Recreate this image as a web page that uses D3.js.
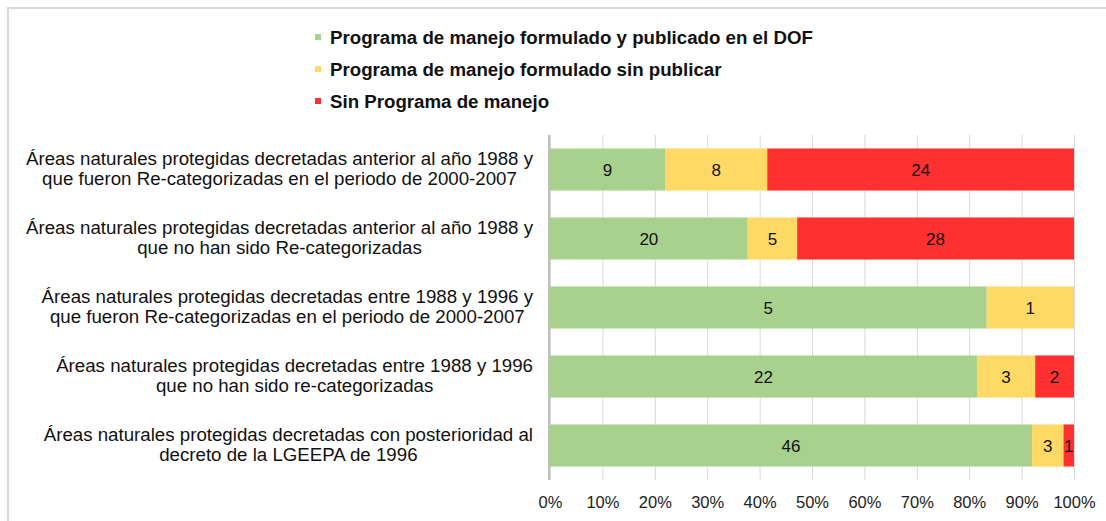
<!DOCTYPE html>
<html lang="es">
<head>
  <meta charset="UTF-8">
  <title>Programas de manejo ANP</title>
  <script src="https://cdn.jsdelivr.net/npm/d3@7/dist/d3.min.js"></script>
  <style>
    body { margin: 0; background: #fff; }
    svg { display: block; font-family: 'Liberation Sans', Arial, sans-serif; }
  </style>
</head>
<body>
<svg></svg>
<script>
  const width = 1106, height = 521

  // categorias (cada una en dos lineas)
  const categories = [
    ['Áreas naturales protegidas decretadas anterior al año 1988 y', 'que fueron Re-categorizadas en el periodo de 2000-2007'],
    ['Áreas naturales protegidas decretadas anterior al año 1988 y', 'que no han sido Re-categorizadas'],
    ['Áreas naturales protegidas decretadas entre 1988 y 1996 y', 'que fueron Re-categorizadas en el periodo de 2000-2007'],
    ['Áreas naturales protegidas decretadas entre 1988 y 1996', 'que no han sido re-categorizadas'],
    ['Áreas naturales protegidas decretadas con posterioridad al', 'decreto de la LGEEPA de 1996']
  ]
  const seriesNames = [
    'Programa de manejo formulado y publicado en el DOF',
    'Programa de manejo formulado sin publicar',
    'Sin Programa de manejo'
  ]
  const publicado = [9, 20, 5, 22, 46]
  const sinPublicar = [8, 5, 1, 3, 3]
  const sinPrograma = [24, 28, 0, 2, 1]
  const colors = ['#A9D18E', '#FFD966', '#FF3030']
  const ticks = [0, 0.1, 0.2, 0.3, 0.4, 0.5, 0.6, 0.7, 0.8, 0.9, 1]

  const margin = {top: 135, right: 32, bottom: 41, left: 550}

  const svg = d3.select('svg')
      .attr('width', width)
      .attr('height', height)

  // marco del grafico
  svg.append('rect')
      .attr('x', 8).attr('y', 8)
      .attr('width', width + 10).attr('height', height + 10)
      .attr('fill', 'none')
      .attr('stroke', '#D9D9D9')
      .attr('stroke-width', 2)

  const rows = categories.map((c, i) => {
    const vals = [publicado[i], sinPublicar[i], sinPrograma[i]]
    const total = d3.sum(vals)
    let acc = 0
    return vals.map((v, j) => {
      const seg = {row: i, key: j, value: v, x0: acc / total, x1: (acc + v) / total}
      acc += v
      return seg
    })
  })

  const x = d3.scaleLinear()
      .domain([0, 1])
      .range([margin.left, width - margin.right])

  const y = d3.scaleBand()
      .domain(d3.range(categories.length))
      .range([margin.top, height - margin.bottom])
      .paddingInner(0.39)
      .paddingOuter(0.195)

  // lineas de cuadricula
  svg.append('g')
      .attr('transform', `translate(0,${height - margin.bottom})`)
      .call(d3.axisBottom(x).tickValues(ticks)
          .tickSize(-(height - margin.bottom - margin.top))
          .tickFormat(d3.format('.0%')))
      .call(g => g.select('.domain').remove())
      .call(g => g.selectAll('.tick line').attr('stroke', '#D9D9D9'))
      .call(g => g.selectAll('.tick text')
          .attr('dy', 0).attr('y', 28)
          .attr('font-size', 16.5)
          .attr('font-family', 'Liberation Sans, Arial, sans-serif')
          .attr('fill', '#222'))

  // barras
  svg.append('g')
    .selectAll('rect')
    .data(rows.flat().filter(d => d.value > 0))
    .join('rect')
      .attr('x', d => x(d.x0))
      .attr('y', d => y(d.row))
      .attr('width', d => x(d.x1) - x(d.x0))
      .attr('height', y.bandwidth())
      .attr('fill', d => colors[d.key])

  // etiquetas de valores
  svg.append('g')
    .selectAll('text')
    .data(rows.flat().filter(d => d.value > 0))
    .join('text')
      .attr('x', d => x((d.x0 + d.x1) / 2))
      .attr('y', d => y(d.row) + y.bandwidth() / 2)
      .attr('dy', '0.36em')
      .attr('text-anchor', 'middle')
      .attr('font-size', 17)
      .attr('fill', '#111')
      .text(d => d.value)

  // eje vertical
  svg.append('line')
      .attr('x1', x(0) - 1).attr('x2', x(0) - 1)
      .attr('y1', margin.top).attr('y2', height - margin.bottom)
      .attr('stroke', '#BFBFBF')
      .attr('stroke-width', 2)

  // etiquetas de categorias, bloque centrado y alineado a la derecha
  const labelRight = 533
  categories.forEach((lines, i) => {
    const g = svg.append('g')
    const texts = g.selectAll('text')
      .data(lines)
      .join('text')
        .attr('font-size', 18.7)
        .attr('fill', '#111')
        .attr('text-anchor', 'middle')
        .attr('y', (d, k) => y(i) + y.bandwidth() / 2 + (k - 0.5) * 20.5 - 1)
        .attr('dy', '0.36em')
        .text(d => d)
    const maxW = d3.max(texts.nodes(), n => n.getComputedTextLength())
    texts.attr('x', labelRight - maxW / 2)
  })

  // leyenda
  const legend = svg.append('g')
    .selectAll('g')
    .data(seriesNames)
    .join('g')
      .attr('transform', (d, i) => `translate(315,${37 + i * 32})`)

  legend.append('rect')
      .attr('x', 0).attr('y', -3)
      .attr('width', 6).attr('height', 6)
      .attr('fill', (d, i) => colors[i])

  legend.append('text')
      .attr('x', 15)
      .attr('dy', '0.36em')
      .attr('font-size', 18.7)
      .attr('font-weight', 'bold')
      .attr('fill', '#111')
      .text(d => d)
</script>
</body>
</html>
